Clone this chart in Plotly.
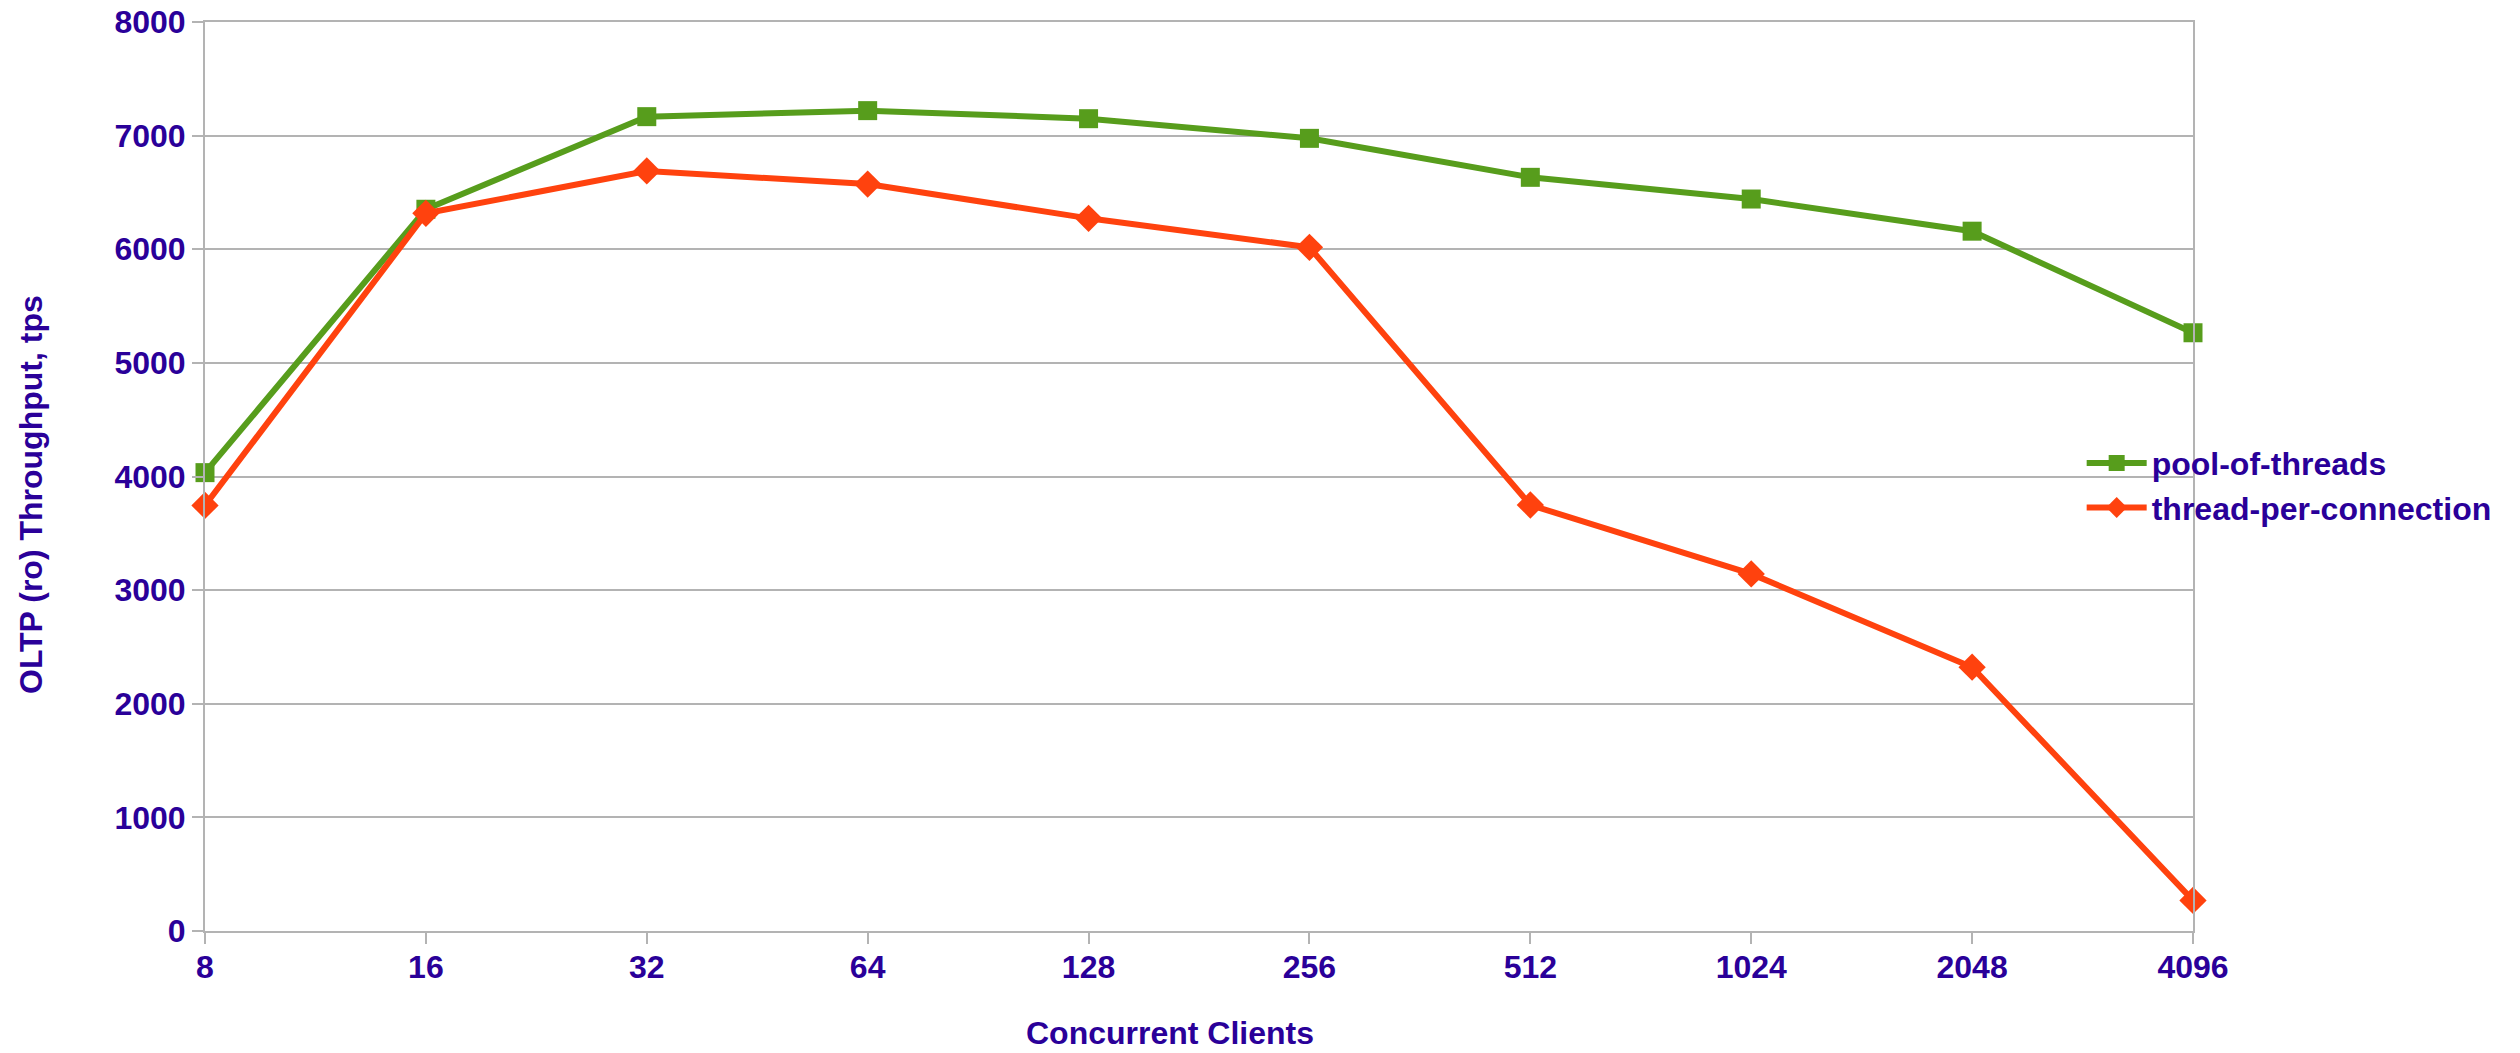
import plotly.graph_objects as go

# Concurrent client counts (x categories)
clients = ["8", "16", "32", "64", "128", "256", "512", "1024", "2048", "4096"]

# OLTP read-only throughput, transactions per second
pool_of_threads = [4034, 6352, 7167, 7220, 7149, 6976, 6633, 6442, 6159, 5265]
thread_per_connection = [3745, 6316, 6689, 6574, 6272, 6017, 3749, 3143, 2322, 269]

y_ticks = [0, 1000, 2000, 3000, 4000, 5000, 6000, 7000, 8000]

TEXT = "#2a0099"
GRID = "#b3b3b3"
FONT = "Liberation Sans, Arial, sans-serif"
FS = 32

fig = go.Figure()
fig.add_trace(go.Scatter(
    x=clients, y=pool_of_threads, name="pool-of-threads",
    mode="lines+markers", cliponaxis=False,
    line=dict(color="#579d1c", width=6),
    marker=dict(symbol="square", size=19, color="#579d1c"),
))
fig.add_trace(go.Scatter(
    x=clients, y=thread_per_connection, name="thread-per-connection",
    mode="lines+markers", cliponaxis=False,
    line=dict(color="#ff420e", width=6),
    marker=dict(symbol="diamond", size=21, color="#ff420e"),
))

axis_font = dict(family=FONT, size=FS, color=TEXT, weight="bold")

fig.update_layout(
    width=2520, height=1053,
    margin=dict(l=205, r=327, t=22, b=122, autoexpand=False),
    paper_bgcolor="white", plot_bgcolor="white",
    font=dict(family=FONT, size=FS, color=TEXT),
    showlegend=True,
    legend=dict(
        x=0.944, xanchor="left", y=0.49, yanchor="middle",
        font=axis_font,
        itemwidth=60, tracegroupgap=0, bgcolor="rgba(0,0,0,0)",
    ),
    xaxis=dict(
        type="category", range=[0, 9], automargin=False,
        showgrid=False, showline=True, linecolor=GRID, linewidth=2, mirror=True,
        ticks="outside", ticklen=11, tickcolor=GRID, tickwidth=2,
        ticklabelstandoff=-4,
        tickfont=axis_font, zeroline=False,
    ),
    yaxis=dict(
        range=[0, 8000], tickvals=y_ticks, automargin=False,
        showgrid=True, gridcolor=GRID, gridwidth=2,
        showline=True, linecolor=GRID, linewidth=2, mirror=True,
        ticks="outside", ticklen=11, tickcolor=GRID, tickwidth=2,
        tickfont=axis_font, zeroline=False,
    ),
    annotations=[
        dict(text="<b>Concurrent Clients</b>", xref="paper", yref="paper",
             x=(1170 - 205) / 1988, y=-(1033 - 931) / 909,
             xanchor="center", yanchor="middle", showarrow=False,
             font=dict(family=FONT, size=FS, color=TEXT)),
        dict(text="<b>OLTP (ro) Throughput, tps</b>", xref="paper", yref="paper",
             x=-(205 - 31) / 1988, y=(931 - 495) / 909, textangle=-90,
             xanchor="center", yanchor="middle", showarrow=False,
             font=dict(family=FONT, size=FS, color=TEXT)),
    ],
)

fig.write_html("out.html")
